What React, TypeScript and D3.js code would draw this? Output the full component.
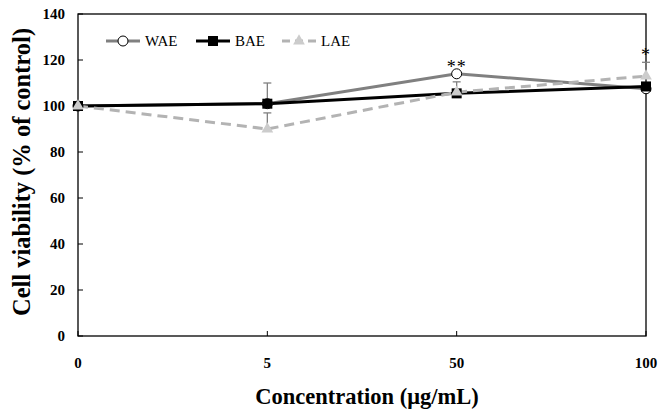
import React, { useEffect, useRef } from "react";
import * as d3 from "d3";

const categories = ["0", "5", "50", "100"];
const waeValues = [100, 101, 114, 107.5];
const baeValues = [100, 101, 105.5, 108.5];
const laeValues = [100, 90, 106, 113];
const waeErrors = [0, 9, 0, 0];
const baeErrors = [0, 0, 0, 0];
const laeErrors = [0, 7, 4.5, 6];
const waeMarks = ["", "", "**", ""];
const laeMarks = ["", "", "", "*"];
const yTicks = [0, 20, 40, 60, 80, 100, 120, 140];

const App = () => {
  const ref = useRef<SVGSVGElement | null>(null);

  useEffect(() => {
    if (!ref.current) return;
    const svg = d3.select(ref.current);
    svg.selectAll("*").remove();

    const left = 78, right = 646, top = 14, bottom = 336;
    const font = "'Liberation Serif', 'Times New Roman', serif";

    const x = d3.scalePoint<string>().domain(categories).range([left, right]);
    const y = d3.scaleLinear().domain([0, 140]).range([bottom, top]);

    // frame
    svg.append("rect")
      .attr("x", left).attr("y", top)
      .attr("width", right - left).attr("height", bottom - top)
      .attr("fill", "none").attr("stroke", "#000").attr("stroke-width", 1.3);

    // y axis ticks + labels
    yTicks.forEach((t) => {
      svg.append("line")
        .attr("x1", left).attr("x2", left + 5)
        .attr("y1", y(t)).attr("y2", y(t))
        .attr("stroke", "#000").attr("stroke-width", 1);
      svg.append("text")
        .attr("x", left - 13).attr("y", y(t))
        .attr("dy", "0.35em").attr("text-anchor", "end")
        .attr("font-family", font).attr("font-weight", "bold").attr("font-size", 15)
        .text(t);
    });

    // x axis ticks + labels
    categories.forEach((c) => {
      svg.append("line")
        .attr("x1", x(c)!).attr("x2", x(c)!)
        .attr("y1", bottom).attr("y2", bottom - 5)
        .attr("stroke", "#000").attr("stroke-width", 1);
      svg.append("text")
        .attr("x", x(c)!).attr("y", 363)
        .attr("dy", "0.35em").attr("text-anchor", "middle")
        .attr("font-family", font).attr("font-weight", "bold").attr("font-size", 15)
        .text(c);
    });

    // axis titles
    svg.append("text")
      .attr("x", 367).attr("y", 404)
      .attr("text-anchor", "middle")
      .attr("font-family", font).attr("font-weight", "bold").attr("font-size", 22.5)
      .text("Concentration (μg/mL)");
    svg.append("text")
      .attr("transform", `translate(30,172) rotate(-90)`)
      .attr("text-anchor", "middle")
      .attr("font-family", font).attr("font-weight", "bold").attr("font-size", 24.5)
      .text("Cell viability (% of control)");

    const series = [
      { name: "WAE", values: waeValues, errors: waeErrors, color: "#808080", dash: null, marker: "circle", marks: waeMarks },
      { name: "BAE", values: baeValues, errors: baeErrors, color: "#000000", dash: null, marker: "square", marks: null },
      { name: "LAE", values: laeValues, errors: laeErrors, color: "#b3b3b3", dash: "10,6", marker: "triangle", marks: laeMarks },
    ];

    // error bars
    series.forEach((s) => {
      s.values.forEach((v, i) => {
        if (!s.errors[i]) return;
        const cx = x(categories[i])!;
        svg.append("line")
          .attr("x1", cx).attr("x2", cx)
          .attr("y1", y(v)).attr("y2", y(v + s.errors[i]))
          .attr("stroke", "#808080").attr("stroke-width", 1.3);
        svg.append("line")
          .attr("x1", cx - 4).attr("x2", cx + 4)
          .attr("y1", y(v + s.errors[i])).attr("y2", y(v + s.errors[i]))
          .attr("stroke", "#808080").attr("stroke-width", 1.3);
      });
    });

    const line = d3.line<number>()
      .x((_, i) => x(categories[i])!)
      .y((d) => y(d));

    const drawMarker = (g: any, type: string, cx: number, cy: number) => {
      if (type === "circle") {
        g.append("circle").attr("cx", cx).attr("cy", cy).attr("r", 5)
          .attr("fill", "#fff").attr("stroke", "#000").attr("stroke-width", 1);
      } else if (type === "square") {
        g.append("rect").attr("x", cx - 5).attr("y", cy - 5)
          .attr("width", 10).attr("height", 10).attr("fill", "#000");
      } else {
        const sym = d3.symbol().type(d3.symbolTriangle).size(60);
        g.append("path").attr("d", sym()!)
          .attr("transform", `translate(${cx},${cy})`)
          .attr("fill", "#cccccc");
      }
    };

    series.forEach((s) => {
      const p = svg.append("path")
        .datum(s.values)
        .attr("d", line)
        .attr("fill", "none")
        .attr("stroke", s.color)
        .attr("stroke-width", 3);
      if (s.dash) p.attr("stroke-dasharray", s.dash);
    });

    series.forEach((s) => {
      s.values.forEach((v, i) => drawMarker(svg, s.marker, x(categories[i])!, y(v)));
    });

    // significance marks
    series.forEach((s) => {
      if (!s.marks) return;
      s.marks.forEach((m, i) => {
        if (!m) return;
        const top = y(s.values[i] + s.errors[i]);
        svg.append("text")
          .attr("x", x(categories[i])!).attr("y", top - 1)
          .attr("text-anchor", "middle")
          .attr("font-family", font).attr("font-size", 18).attr("fill", "#000")
          .attr("letter-spacing", 1)
          .text(m);
      });
    });

    // legend
    const legendX = [106, 196, 282];
    series.forEach((s, i) => {
      const lx = legendX[i];
      const ly = 41;
      const l = svg.append("line")
        .attr("x1", lx).attr("x2", lx + 34)
        .attr("y1", ly).attr("y2", ly)
        .attr("stroke", s.color).attr("stroke-width", 3);
      if (s.dash) l.attr("stroke-dasharray", "8,5");
      drawMarker(svg, s.marker, lx + 17, ly);
      svg.append("text")
        .attr("x", lx + 39).attr("y", ly)
        .attr("dy", "0.35em")
        .attr("font-family", font).attr("font-size", 15)
        .text(s.name);
    });
  }, []);

  return (
    <svg
      ref={ref}
      width={671}
      height={410}
      style={{ position: "absolute", left: 0, top: 0, display: "block" }}
    />
  );
};

export default App;
